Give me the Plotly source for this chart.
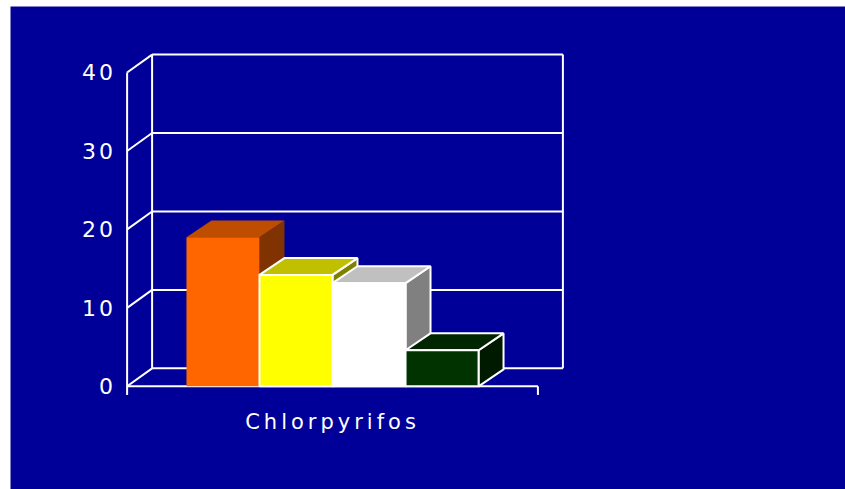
import plotly.graph_objects as go

# ---- data ----
categories = ["Chlorpyrifos"]
series_names = ["Series 1", "Series 2", "Series 3", "Series 4"]
series_values = [19.0, 14.2, 13.15, 4.6]
y_tick_values = [0, 10, 20, 30, 40]
y_tick_labels = ["0", "10", "20", "30", "40"]

# ---- styles ----
front_colors = ["#FF6600", "#FFFF00", "#FFFFFF", "#003300"]
top_colors = ["#BF4D00", "#C0C000", "#C0C0C0", "#002600"]
side_colors = ["#803300", "#808000", "#808080", "#001A00"]
outlined = [False, True, True, True]
BG = "#000099"

# 3D depth (in axis units)
WALL_DX, WALL_DY = 0.0608, 2.29
BAR_DX, BAR_DY = 0.0608, 2.15
GROUP_WIDTH = 0.711
TICK_DOWN = 1.1
YMAX = max(y_tick_values)

fig = go.Figure()

# ---- frame (floor, back wall, gridlines) ----
fx, fy = [], []
def seg(x0, y0, x1, y1):
    fx.extend([x0, x1, None]); fy.extend([y0, y1, None])

for v in y_tick_values:
    seg(0, v, WALL_DX, v + WALL_DY)
    seg(WALL_DX, v + WALL_DY, 1 + WALL_DX, v + WALL_DY)
seg(WALL_DX, WALL_DY, WALL_DX, YMAX + WALL_DY)
seg(1 + WALL_DX, WALL_DY, 1 + WALL_DX, YMAX + WALL_DY)
seg(0, -TICK_DOWN, 0, YMAX)
seg(0, 0, 1, 0)
seg(1, 0, 1, -TICK_DOWN)

fig.add_trace(go.Scatter(x=fx, y=fy, mode="lines",
                         line=dict(color="white", width=2),
                         hoverinfo="skip", showlegend=False))

# ---- bars ----
n = len(series_values)
w = GROUP_WIDTH / n
cat_center = 0.5
g0 = cat_center - GROUP_WIDTH / 2
for i, (name, v) in enumerate(zip(series_names, series_values)):
    x0 = g0 + i * w
    x1 = x0 + w
    lw = 2 if outlined[i] else 0
    lc = "white" if outlined[i] else front_colors[i]
    # side face
    fig.add_trace(go.Scatter(
        x=[x1, x1 + BAR_DX, x1 + BAR_DX, x1, x1],
        y=[0, BAR_DY, v + BAR_DY, v, 0],
        fill="toself", fillcolor=side_colors[i], mode="lines",
        line=dict(color=lc, width=lw), hoverinfo="skip", showlegend=False))
    # top face
    fig.add_trace(go.Scatter(
        x=[x0, x1, x1 + BAR_DX, x0 + BAR_DX, x0],
        y=[v, v, v + BAR_DY, v + BAR_DY, v],
        fill="toself", fillcolor=top_colors[i], mode="lines",
        line=dict(color=lc, width=lw), hoverinfo="skip", showlegend=False))
    # front face
    fig.add_trace(go.Scatter(
        x=[x0, x1, x1, x0, x0],
        y=[0, 0, v, v, 0],
        fill="toself", fillcolor=front_colors[i], mode="lines",
        line=dict(color=lc, width=lw), name=name, showlegend=False))

fig.update_layout(
    width=845, height=489, autosize=False,
    paper_bgcolor=BG, plot_bgcolor="rgba(0,0,0,0)",
    margin=dict(l=123, r=266, t=49, b=87, pad=0),
    showlegend=False,
    font=dict(family="DejaVu Sans", color="white"),
    xaxis=dict(range=[-0.01, 1.1], tickvals=[cat_center], ticktext=categories,
               showgrid=False, zeroline=False, showline=False, ticks="",
               tickfont=dict(size=21, color="white"), ticklabelstandoff=5,
               fixedrange=True),
    yaxis=dict(range=[-2, 43], tickvals=y_tick_values, ticktext=y_tick_labels,
               showgrid=False, zeroline=False, showline=False, ticks="",
               tickfont=dict(size=22, color="white"), ticklabelstandoff=6,
               fixedrange=True),
    shapes=[
        dict(type="rect", xref="paper", yref="paper", x0=-0.3, x1=1.7,
             y0=1.1204, y1=1.3, fillcolor="white", line=dict(width=0), layer="below"),
        dict(type="rect", xref="paper", yref="paper", x0=-0.3, x1=-0.2467,
             y0=-0.5, y1=1.3, fillcolor="white", line=dict(width=0), layer="below"),
    ],
)

post = """
document.body.style.margin = '0';
document.body.style.padding = '0';
document.documentElement.style.margin = '0';
document.body.style.overflow = 'hidden';
var gd = document.getElementById('{plot_id}');
function sp(){
  gd.querySelectorAll('.ytick text').forEach(function(t){t.style.letterSpacing='3px';});
  gd.querySelectorAll('.xtick text').forEach(function(t){t.style.letterSpacing='4px';});
}
sp();
"""
fig.write_html("out.html", post_script=post, config={"staticPlot": True})
